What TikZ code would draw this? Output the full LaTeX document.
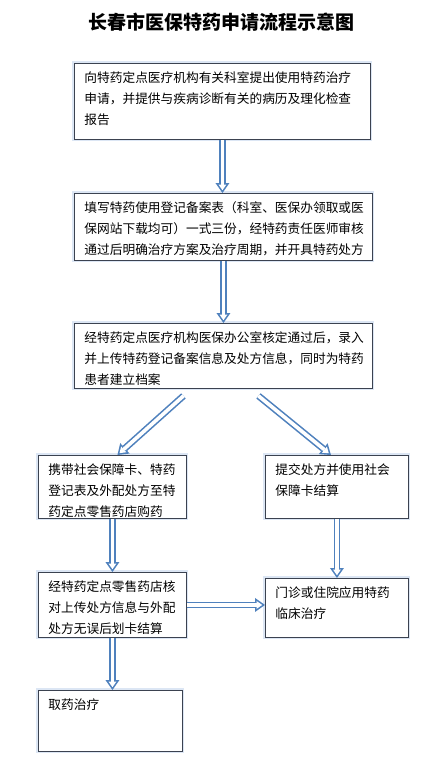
\documentclass[tikz,border=0pt]{standalone}
\usepackage{fontspec}
\setmainfont{Noto Sans CJK SC}
\usetikzlibrary{arrows.meta, calc}
\definecolor{arrowblue}{HTML}{4F81BD}
\definecolor{boxline}{HTML}{3B4250}
\definecolor{glow}{HTML}{DCE6F4}
\begin{document}
\begin{tikzpicture}[x=1pt, y=-1pt,
			box/.style={draw=boxline, line width=0.9pt, fill=white, anchor=north west,
				inner xsep=10pt, inner ysep=8pt,
				preaction={draw=glow, line width=4pt},
				font=\fontsize{12.7}{21}\selectfont},
			dblarrow/.style={draw=arrowblue, line width=6.8pt,
				-{Triangle[width=14pt, length=10pt, line width=0pt]},
				postaction={draw=white, line width=3.6pt, shorten >=2.8pt,
					-{Triangle[width=7.8pt, length=5.6pt, line width=0pt]}}}]
			
			\useasboundingbox (0,0) rectangle (447,778);
			
			% Titolo
			\node[font=\bfseries\fontsize{19}{19}\selectfont] (title) at (221,22) {长春市医保特药申请流程示意图};
			
			% --- Riquadri del flusso ---
			\node[box] (n1) at (74,63) {\parbox[t][60pt][t]{276pt}{向特药定点医疗机构有关科室提出使用特药治疗\\申请，并提供与疾病诊断有关的病历及理化检查\\报告}};
			\node[box] (n2) at (74,193) {\parbox[t][51pt][t]{278pt}{填写特药使用登记备案表（科室、医保办领取或医\\保网站下载均可）一式三份，经特药责任医师审核\\通过后明确治疗方案及治疗周期，并开具特药处方}};
			\node[box] (n3) at (74,323) {\parbox[t][49pt][t]{278pt}{经特药定点医疗机构医保办公室核定通过后，录入\\并上传特药登记备案信息及处方信息，同时为特药\\患者建立档案}};
			
			% Ramo sinistro
			\node[box] (n4) at (38,455) {\parbox[t][47pt][t]{128pt}{携带社会保障卡、特药\\登记表及外配处方至特\\药定点零售药店购药}};
			\node[box] (n6) at (38,572) {\parbox[t][49pt][t]{128pt}{经特药定点零售药店核\\对上传处方信息与外配\\处方无误后划卡结算}};
			\node[box] (n8) at (38,690) {\parbox[t][45pt][t]{124pt}{取药治疗}};
			
			% Ramo destro
			\node[box] (n5) at (265,455) {\parbox[t][47pt][t]{123pt}{提交处方并使用社会\\保障卡结算}};
			\node[box] (n7) at (265,578) {\parbox[t][43pt][t]{123pt}{门诊或住院应用特药\\临床治疗}};
			
			% --- Frecce ---
			\draw[dblarrow] (n1.south) -- (n1.south |- n2.north);
			\draw[dblarrow] (n2.south) -- (n2.south |- n3.north);
			\draw[dblarrow] ([xshift=-40pt,yshift=-7pt]n3.south) -- ([xshift=5pt]n4.north);
			\draw[dblarrow] ([xshift=35pt,yshift=-7pt]n3.south) -- ([xshift=-6pt]n5.north);
			\draw[dblarrow] (n4.south) -- (n4.south |- n6.north);
			\draw[dblarrow] (n5.south) -- (n5.south |- n7.north);
			\draw[dblarrow] (n6.east) -- (n6.east -| n7.west);
			\draw[dblarrow] (n6.south) -- (n6.south |- n8.north);
		\end{tikzpicture}
\end{document}
